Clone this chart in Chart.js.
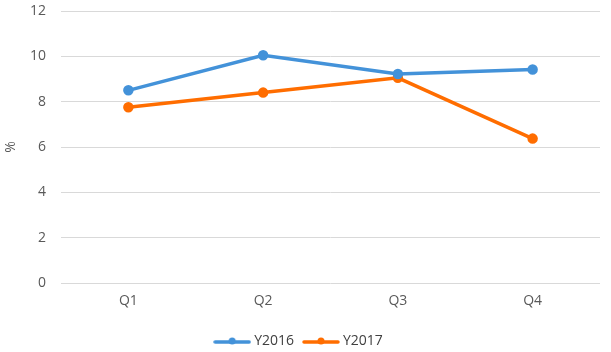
<!DOCTYPE html>
<html>
<head>
<meta charset="utf-8">
<script src="https://cdn.jsdelivr.net/npm/chart.js@4"></script>
<style>
  html, body { margin: 0; padding: 0; background: #fff; }
  #wrap { width: 611px; height: 352px; }
</style>
</head>
<body>
<div id="wrap"><canvas id="chart" width="611" height="352"></canvas></div>
<script>
// chart data
const quarters = ["Q1", "Q2", "Q3", "Q4"];
const y2016 = [8.5, 10.05, 9.22, 9.42];
const y2017 = [7.75, 8.4, 9.05, 6.37];
const yTicks = [0, 2, 4, 6, 8, 10, 12];

const BLUE = "#4392d9";
const ORANGE = "#ff6d00";

// legend marker: short line with a dot in the middle
function legendMarker(color) {
    const c = document.createElement("canvas");
    c.width = 38; c.height = 12;
    const g = c.getContext("2d");
    g.strokeStyle = color;
    g.lineWidth = 3.5;
    g.lineCap = "round";
    g.beginPath();
    g.moveTo(2, 7); g.lineTo(36, 7);
    g.stroke();
    g.fillStyle = color;
    g.beginPath();
    g.arc(19, 6, 3.5, 0, Math.PI * 2);
    g.fill();
    return c;
}

const ctx = document.getElementById("chart").getContext("2d");
new Chart(ctx, {
    type: "line",
    data: {
        labels: quarters,
        datasets: [
            {
                label: "Y2016",
                data: y2016,
                borderColor: BLUE,
                backgroundColor: BLUE,
                borderWidth: 3.5,
                pointRadius: 3.5,
                pointHoverRadius: 3.5,
                tension: 0
            },
            {
                label: "Y2017",
                data: y2017,
                borderColor: ORANGE,
                backgroundColor: ORANGE,
                borderWidth: 3.5,
                pointRadius: 3.5,
                pointHoverRadius: 3.5,
                tension: 0
            }
        ]
    },
    options: {
        responsive: false,
        animation: false,
        layout: { padding: { left: 0, right: 11, top: 11, bottom: -6 } },
        plugins: {
            tooltip: { enabled: false },
            legend: {
                position: "bottom",
                labels: {
                    usePointStyle: true,
                    pointStyleWidth: 30,
                    color: "#404040",
                    font: { family: "Open Sans", size: 14 },
                    padding: 12,
                    generateLabels: function(chart) {
                        return chart.data.datasets.map((ds, i) => ({
                            text: ds.label,
                            pointStyle: legendMarker(ds.borderColor),
                            fillStyle: ds.borderColor,
                            strokeStyle: ds.borderColor,
                            lineWidth: 0,
                            fontColor: "#404040",
                            datasetIndex: i
                        }));
                    }
                }
            }
        },
        scales: {
            x: {
                offset: true,
                grid: { display: false, drawTicks: false },
                border: { display: false },
                ticks: { color: "#595959", font: { family: "Open Sans", size: 14 }, padding: 10 },
                afterFit: axis => { axis.height = 39; axis.paddingLeft = 0; axis.paddingRight = 0; }
            },
            y: {
                min: 0,
                max: 12,
                afterBuildTicks: axis => { axis.ticks = yTicks.map(v => ({ value: v })); },
                grid: { color: "#d9d9d9", lineWidth: 1, drawTicks: false },
                border: { display: false },
                ticks: { color: "#595959", font: { family: "Open Sans", size: 14 }, padding: 15 },
                title: { display: true, text: "%", color: "#595959", font: { family: "Open Sans", size: 14 }, padding: 3 },
                afterFit: axis => { axis.width = 61; axis.paddingTop = 0; axis.paddingBottom = 0; }
            }
        }
    }
});
</script>
</body>
</html>
